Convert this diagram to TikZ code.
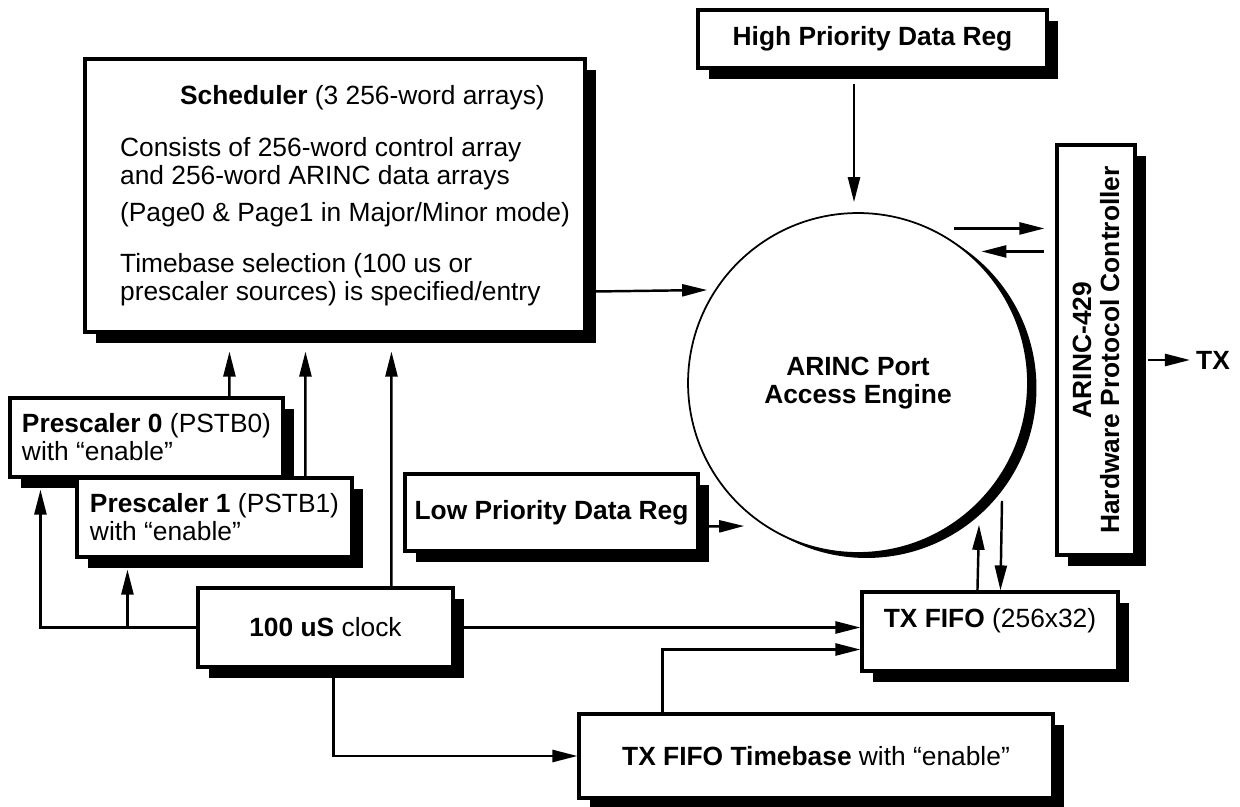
\documentclass[tikz,border=0pt]{standalone}
\usepackage{fontspec}
\setmainfont{Liberation Sans}
\usetikzlibrary{arrows.meta, calc, shadows}
\newcommand{\sind}{\hspace*{0.4cm}}

\begin{document}
\begin{tikzpicture}[
  x=0.02cm, y=-0.02cm,
  every node/.style={font=\fontsize{15}{16}\selectfont},
  box/.style={draw, line width=1.8pt, fill=white, inner sep=0.25em,
    drop shadow={shadow xshift=0.22cm, shadow yshift=-0.22cm, fill=black, opacity=1}},
  arr/.style={line width=1.4pt, -{Triangle[length=0.5cm, width=0.24cm]}}
]
  \useasboundingbox (0,0) rectangle (1240,807);

  % Registers and scheduler
  \node[box, minimum width=6.98cm, minimum height=1.16cm] (hpreg) at (872.5,39)
    {\textbf{High Priority Data Reg}};
  \node[box, minimum width=10cm, minimum height=5.46cm, align=left] (sched) at (335,195.5)
    {\hspace*{1.6cm}\textbf{Scheduler} (3 256-word arrays)\\[0.48cm]
     \sind Consists of 256-word control array\\
     \sind and 256-word ARINC data arrays\\[0.18cm]
     \sind (Page0 \& Page1 in Major/Minor mode)\\[0.46cm]
     \sind Timebase selection (100 us or\\
     \sind prescaler sources) is specified/entry};
  \node[box, minimum width=5.86cm, minimum height=1.54cm] (lowreg) at (551.5,512.5)
    {\textbf{Low Priority Data Reg}};

  % Engine and protocol controller
  \node[circle, draw, line width=1pt, fill=white, minimum size=6.8cm, inner sep=0pt,
    align=center, drop shadow={shadow xshift=0.17cm, shadow yshift=-0.1cm, fill=black, opacity=1}]
    (engine) at (858,383) {\textbf{ARINC Port}\\\textbf{Access Engine}};
  \node[box, minimum width=1.56cm, minimum height=8.2cm, inner sep=0pt] (arinc) at (1096,350)
    {\rotatebox{90}{\parbox{7.8cm}{\centering\textbf{ARINC-429}\\\textbf{Hardware Protocol Controller}}}};
  \node (tx) at (1213,360) {\textbf{TX}};

  % Prescalers and clock
  \node[box, minimum width=5.46cm, minimum height=1.58cm, align=left] (pre0) at (146.5,437.5)
    {\textbf{Prescaler 0} (PSTB0)\\with “enable”};
  \node[box, minimum width=5.5cm, minimum height=1.58cm, align=left] (pre1) at (214.5,517.5)
    {\textbf{Prescaler 1} (PSTB1)\\with “enable”};
  \node[box, minimum width=5.1cm, minimum height=1.58cm] (clock) at (325.5,627.5)
    {\textbf{100 uS} clock};

  % FIFO side
  \node[box, minimum width=5.12cm, minimum height=1.58cm, text depth=0.55cm] (fifo) at (990,631.5)
    {\textbf{TX FIFO} (256x32)};
  \node[box, minimum width=9.48cm, minimum height=1.68cm] (fbase) at (816,756)
    {\textbf{TX FIFO Timebase} with “enable”};

  % Arrows into the engine
  \draw[arr] ($(hpreg.south -| engine.north)+(-4,14)$) -- ($(engine.north)+(-4,-10)$);
  \draw[arr] ($(sched.east)+(8,96)$) -- ($(engine.west)+(20,-93)$);
  \draw[arr] ($(lowreg.east)+(8,14)$) -- ($(engine.west)+(57,143)$);

  % Engine <-> controller
  \draw[arr] ($(arinc.north west)+(-101,85)$) -- ($(arinc.north west)+(-11,85)$);
  \draw[arr] ($(arinc.north west)+(-11,108)$) -- ($(arinc.north west)+(-74,108)$);
  \draw[arr] ($(arinc.east |- tx)+(11,0)$) -- (tx.west);

  % Engine <-> FIFO
  \draw[arr] ($(fifo.north west)+(117,0)$) -- ($(engine.south)+(121,-29)$);
  \draw[arr] ($(engine.south)+(144,-53)$) -- ($(fifo.north west)+(140,0)$);

  % Up to the scheduler
  \draw[arr, shorten >=0.36cm] ($(pre0.north west)+(221,0)$) -- ($(sched.south west)+(146,0)$);
  \draw[arr, shorten >=0.36cm] ($(pre1.north west)+(230,0)$) -- ($(sched.south west)+(222,0)$);
  \draw[arr, shorten >=0.36cm] ($(clock.north west)+(195,0)$) -- ($(sched.south west)+(308,0)$);

  % Clock distribution
  \coordinate (tap) at ($(pre1.south west)+(52,0)$);
  \draw[arr, shorten >=0.22cm] (clock.west) -| ($(pre0.south west)+(32,0)$);
  \draw[arr, shorten >=0.22cm] (tap |- clock.west) -- (tap);
  \draw[arr] (clock.east) -- (clock.east -| fifo.west);
  \draw[arr] ($(clock.south west)+(137,0)$) |- (fbase.west);
  \draw[arr] ($(fbase.north west)+(85,0)$) |- ($(fifo.west)+(0,18)$);

\end{tikzpicture}
\end{document}
